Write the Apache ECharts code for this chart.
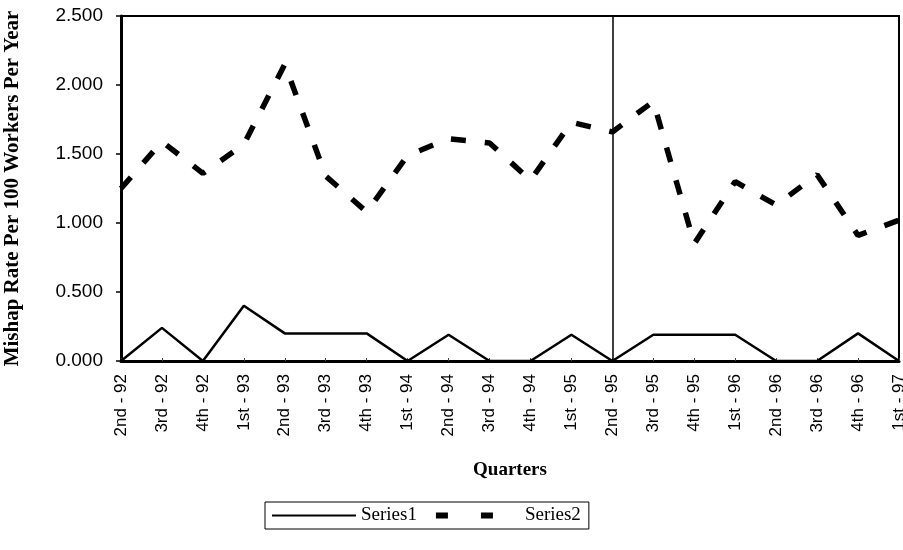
<!DOCTYPE html>
<html>
<head>
<meta charset="utf-8">
<script src="https://cdn.jsdelivr.net/npm/echarts@6/dist/echarts.min.js"></script>
<style>
html,body{margin:0;padding:0;background:#fff;}
#chart{width:903px;height:550px;}
</style>
</head>
<body>
<div id="chart"></div>
<script>
var quarters = ['2nd - 92','3rd - 92','4th - 92','1st - 93','2nd - 93','3rd - 93','4th - 93','1st - 94','2nd - 94','3rd - 94','4th - 94','1st - 95','2nd - 95','3rd - 95','4th - 95','1st - 96','2nd - 96','3rd - 96','4th - 96','1st - 97'];
var series1 = [0, 0.24, 0, 0.40, 0.20, 0.20, 0.20, 0, 0.19, 0, 0, 0.19, 0, 0.19, 0.19, 0.19, 0, 0, 0.20, 0];
var series2 = [1.25, 1.59, 1.36, 1.57, 2.15, 1.34, 1.08, 1.49, 1.61, 1.58, 1.31, 1.73, 1.66, 1.88, 0.85, 1.30, 1.13, 1.35, 0.91, 1.02];
var yTicks = [0, 0.5, 1.0, 1.5, 2.0, 2.5];
var markerQuarter = '2nd - 95';

var chart = echarts.init(document.getElementById('chart'));
var serif = "'Liberation Serif','Times New Roman',serif";
var sans = "'Liberation Sans',Arial,sans-serif";
chart.setOption({
  animation: false,
  backgroundColor: '#fff',
  grid: {left: 121, right: 4, top: 16, bottom: 189, show: true, borderColor: '#000', borderWidth: 2, containLabel: false, outerBoundsMode: 'none'},
  xAxis: {
    type: 'category', data: quarters, boundaryGap: false,
    name: 'Quarters', nameLocation: 'middle', nameGap: 100,
    nameTextStyle: {fontFamily: serif, fontWeight: 'bold', fontSize: 19, color: '#000'},
    axisLine: {lineStyle: {color: '#000', width: 3}},
    axisTick: {inside: true, length: 3, lineStyle: {color: '#444', width: 1}},
    axisLabel: {rotate: 90, margin: 13, fontFamily: sans, fontSize: 17, color: '#000', interval: 0, hideOverlap: false}
  },
  yAxis: {
    type: 'value', min: yTicks[0], max: yTicks[yTicks.length - 1], interval: 0.5,
    name: 'Mishap Rate Per 100 Workers Per Year', nameLocation: 'middle', nameRotate: 90, nameGap: 98,
    nameTextStyle: {fontFamily: serif, fontWeight: 'bold', fontSize: 21, color: '#000'},
    axisLine: {show: true, lineStyle: {color: '#000', width: 3}},
    axisTick: {show: true, length: 5, lineStyle: {color: '#000', width: 1.5}},
    splitLine: {show: false},
    axisLabel: {fontFamily: sans, fontSize: 19, color: '#000', margin: 18, formatter: function (v) { return v.toFixed(3); }}
  },
  legend: {
    left: 265, top: 502, itemWidth: 84, itemHeight: 14, itemGap: 16,
    borderColor: '#000', borderWidth: 1, padding: [4, 8, 4, 6],
    textStyle: {fontFamily: serif, fontSize: 19, color: '#000'},
    data: [
      {name: 'Series1', itemStyle: {opacity: 0}},
      {name: 'Series2', itemStyle: {opacity: 0}, lineStyle: {type: [12, 33], width: 6, color: '#000'}}
    ]
  },
  series: [
    {
      name: 'Series1', type: 'line', data: series1, symbol: 'none',
      itemStyle: {color: '#000'},
      lineStyle: {color: '#000', width: 2.5},
      markLine: {
        silent: true, symbol: 'none', label: {show: false},
        lineStyle: {color: '#000', width: 1.5, type: 'solid'},
        data: [{xAxis: markerQuarter}]
      }
    },
    {
      name: 'Series2', type: 'line', data: series2, symbol: 'none',
      itemStyle: {color: '#000'},
      lineStyle: {color: '#000', width: 5.5, type: [15, 19], cap: 'butt'}
    }
  ]
});
</script>
</body>
</html>
